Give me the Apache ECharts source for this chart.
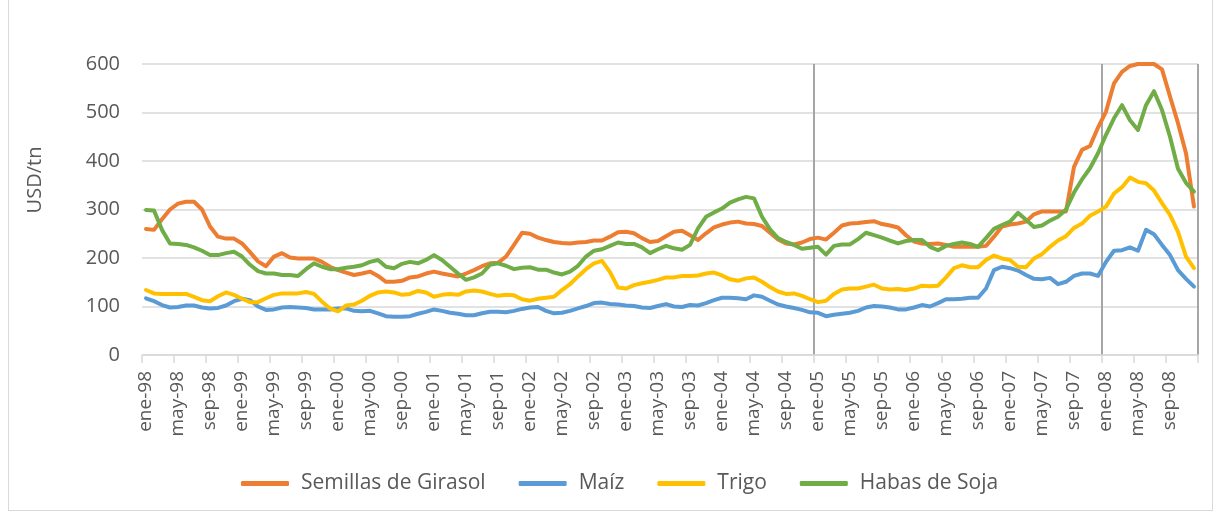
<!DOCTYPE html>
<html>
<head>
<meta charset="utf-8">
<script src="https://cdn.jsdelivr.net/npm/echarts@6/dist/echarts.min.js"></script>
<style>
  html, body { margin: 0; padding: 0; background: #fff; }
  #frame { position: absolute; left: 8px; top: -2px; width: 1203px; height: 511px; border: 1px solid #d9d9d9; }
  #chart { position: absolute; left: 0; top: 0; width: 1215px; height: 513px; }
</style>
</head>
<body>
<div id="frame"></div>
<div id="chart"></div>
<script>
const meses = ['ene', 'feb', 'mar', 'abr', 'may', 'jun', 'jul', 'ago', 'sep', 'oct', 'nov', 'dic']
const anios = ['98', '99', '00', '01', '02', '03', '04', '05', '06', '07', '08']
const lineasVerticales = ['ene-05', 'ene-08']

const girasol = [
  260, 258, 280, 300, 312, 316, 316, 300, 265, 244, 240, 240,
  230, 212, 193, 183, 203, 210, 201, 199, 199, 199, 192, 182,
  175, 170, 165, 168, 172, 163, 151, 151, 153, 160, 162, 168,
  172, 168, 165, 162, 168, 175, 183, 189, 190, 203, 227, 252,
  250, 242, 237, 233, 231, 230, 232, 233, 236, 236, 244, 253,
  254, 251, 241, 233, 235, 245, 254, 256, 247, 237, 251, 263,
  269, 273, 275, 271, 270, 266, 252, 238, 230, 228, 232, 239,
  242, 238, 252, 267, 271, 272, 274, 276, 270, 267, 263, 247,
  234, 230, 229, 230, 227, 223, 223, 223, 223, 225, 244, 265,
  269, 271, 275, 290, 296, 296, 296, 296, 388, 423, 431, 469,
  502, 560, 584, 596, 600, 600, 600, 589, 533, 478, 416, 306
]
const maiz = [
  117, 111, 103, 98, 99, 102, 102, 98, 96, 97, 102, 111,
  116, 113, 100, 93, 94, 98, 99, 98, 97, 94, 94, 94,
  96, 96, 91, 90, 91, 86, 80, 79, 79, 80, 85, 89,
  94, 91, 87, 85, 82, 82, 86, 89, 89, 88, 91, 95,
  98, 99, 91, 86, 87, 91, 96, 101, 107, 108, 105, 104,
  102, 101, 98, 97, 101, 105, 100, 99, 103, 102, 107, 113,
  118, 118, 117, 115, 123, 120, 112, 104, 100, 97, 93, 88,
  87, 80, 83, 85, 87, 91, 98, 101, 100, 98, 94, 94,
  98, 103, 100, 107, 115, 115, 116, 118, 118, 137, 175, 182,
  179, 174, 165, 157, 156, 159, 146, 151, 163, 168, 168, 163,
  192, 215, 216, 222, 215, 258, 249, 227, 206, 175, 157, 141
]
const trigo = [
  134, 127, 126, 126, 126, 126, 120, 113, 111, 121, 129, 124,
  116, 109, 109, 117, 124, 127, 127, 127, 130, 126, 110, 96,
  90, 102, 104, 112, 122, 129, 131, 129, 124, 126, 132, 129,
  120, 124, 126, 124, 131, 133, 131, 126, 122, 124, 123, 115,
  112, 116, 118, 120, 134, 146, 162, 177, 189, 194, 171, 139,
  137, 144, 148, 151, 155, 160, 160, 163, 163, 164, 168, 170,
  164, 156, 153, 158, 160, 151, 140, 131, 126, 127, 122, 115,
  109, 112, 126, 135, 137, 137, 141, 145, 137, 135, 136, 134,
  137, 143, 142, 143, 160, 179, 185, 181, 181, 196, 205, 199,
  196, 182, 181, 199, 208, 223, 236, 245, 262, 271, 287, 296,
  306, 333, 346, 366, 357, 354, 339, 313, 289, 254, 203, 179
]
const soja = [
  299, 298, 258, 230, 229, 227, 222, 215, 206, 206, 210, 213,
  203, 186, 173, 168, 168, 165, 165, 163, 177, 189, 182, 177,
  177, 180, 182, 185, 192, 196, 182, 179, 188, 192, 189, 196,
  206, 196, 182, 168, 155, 160, 168, 186, 189, 184, 177, 180,
  181, 176, 176, 170, 166, 172, 184, 203, 215, 218, 225, 232,
  229, 229, 222, 210, 218, 225, 220, 217, 227, 261, 285, 294,
  302, 314, 321, 326, 323, 285, 259, 241, 233, 227, 219, 221,
  223, 207, 225, 228, 228, 239, 252, 247, 242, 236, 230, 235,
  237, 237, 223, 216, 225, 229, 232, 229, 223, 241, 260, 268,
  275, 293, 279, 264, 267, 277, 285, 300, 335, 362, 385, 416,
  454, 488, 515, 484, 464, 515, 544, 505, 450, 384, 355, 337
]

const nombres = ['Semillas de Girasol', 'Maíz', 'Trigo', 'Habas de Soja']
const colores = ['#ED7D31', '#5B9BD5', '#FFC000', '#70AD47']
const yTicks = [0, 100, 200, 300, 400, 500, 600]

const fechas = []
anios.forEach(a => {
  meses.forEach(m => { fechas.push(m + '-' + a) })
})

const fuente = '"Open Sans", Lato, sans-serif'
const gris = '#595959'

function buildChart () {
  const chart = echarts.init(document.querySelector('#chart'), null, { renderer: 'canvas' })
  const datos = [girasol, maiz, trigo, soja]
  const option = {
    animation: false,
    textStyle: { fontFamily: fuente },
    grid: { left: 142, right: 17, top: 64, bottom: 158 },
    legend: {
      data: nombres,
      left: 236,
      top: 468,
      icon: 'roundRect',
      itemWidth: 48,
      itemHeight: 5,
      itemGap: 33,
      textStyle: { color: gris, fontSize: 21, fontFamily: fuente, padding: [0, 0, 0, 7] }
    },
    graphic: [{
      type: 'text',
      x: 35,
      y: 180,
      rotation: Math.PI / 2,
      style: {
        text: 'USD/tn',
        fill: gris,
        font: '20px ' + fuente,
        align: 'center',
        verticalAlign: 'middle'
      }
    }],
    xAxis: {
      type: 'category',
      data: fechas,
      boundaryGap: true,
      axisLine: { lineStyle: { color: '#d9d9d9', width: 1.5 } },
      axisTick: { show: true, interval: 3, length: 8, lineStyle: { color: '#d9d9d9', width: 1.5 } },
      axisLabel: { interval: 3, rotate: 90, color: gris, fontSize: 19, margin: 16, fontFamily: fuente },
      splitLine: {
        show: true,
        interval: (i, v) => lineasVerticales.includes(v),
        lineStyle: { color: '#a6a6a6', width: 2 }
      }
    },
    yAxis: {
      type: 'value',
      min: yTicks[0],
      max: yTicks[yTicks.length - 1],
      interval: 100,
      axisLine: { show: false },
      axisTick: { show: false },
      axisLabel: { color: gris, fontSize: 20, margin: 22, fontFamily: fuente },
      splitLine: { lineStyle: { color: '#d9d9d9', width: 1.5 } }
    },
    series: nombres.map((n, k) => ({
      name: n,
      type: 'line',
      data: datos[k],
      showSymbol: false,
      symbol: 'none',
      lineStyle: { color: colores[k], width: 4, cap: 'round', join: 'round' },
      itemStyle: { color: colores[k] }
    }))
  }
  chart.setOption(option)
}

buildChart()
</script>
</body>
</html>
